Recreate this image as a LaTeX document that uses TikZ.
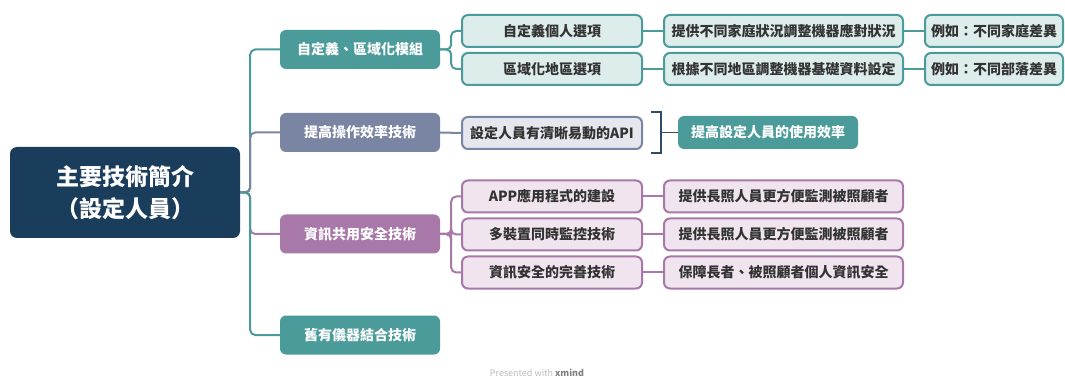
\documentclass[tikz,border=0pt]{standalone}
\usepackage{fontspec}
\setmainfont{Noto Sans CJK TC}
\usetikzlibrary{calc}
\definecolor{rootc}{HTML}{1B3D5C}
\definecolor{tealc}{HTML}{4A9B9A}
\definecolor{slatec}{HTML}{7A84A3}
\definecolor{purpc}{HTML}{A878A8}
\definecolor{tealf}{HTML}{DDEDEC}
\definecolor{slatef}{HTML}{E5E7EF}
\definecolor{purpf}{HTML}{F0E5EF}
\definecolor{brk}{HTML}{2E4B68}
\definecolor{txt}{HTML}{333333}
\definecolor{wmc}{HTML}{BBBBBB}
\tikzset{
  rootbox/.style={fill=rootc, text=white, rounded corners=7, minimum width=230, minimum height=91, align=center, inner sep=0, font=\bfseries\fontsize{23}{32}\selectfont},
  lvone/.style={rounded corners=6, minimum width=160, minimum height=39, text=white, inner sep=0, font=\bfseries\fontsize{14}{16}\selectfont},
  lvtwo/.style={rounded corners=6, line width=2, minimum height=32, text=txt, inner sep=0, font=\bfseries\fontsize{14}{16}\selectfont},
  tbox/.style={lvtwo, draw=tealc, fill=tealf},
  sbox/.style={lvtwo, draw=slatec, fill=slatef},
  pbox/.style={lvtwo, draw=purpc, fill=purpf},
  conn/.style={line width=2, rounded corners=5},
}
\begin{document}
\begin{tikzpicture}[x=1pt,y=-1pt]
\useasboundingbox (0,0) rectangle (1065,379);
\clip (0,0) rectangle (1065,379);
% root and main topics
\node[rootbox] (root) at (125,192.5) {主要技術簡介\\（設定人員）};
\node[lvone, fill=tealc] (m1) at (360,49.5) {自定義、區域化模組};
\node[lvone, fill=slatec] (m2) at (360,132.5) {提高操作效率技術};
\node[lvone, fill=purpc] (m3) at (360,234) {資訊共用安全技術};
\node[lvone, fill=tealc] (m4) at (360,335) {舊有儀器結合技術};
% teal branch
\node[tbox, minimum width=180] (a1) at (552,31) {自定義個人選項};
\node[tbox, minimum width=180] (a2) at (552,69) {區域化地區選項};
\node[tbox, minimum width=239] (b1) at (783.5,31) {提供不同家庭狀況調整機器應對狀況};
\node[tbox, minimum width=239] (b2) at (783.5,69) {根據不同地區調整機器基礎資料設定};
\node[tbox, minimum width=138] (c1) at (994,31) {例如：不同家庭差異};
\node[tbox, minimum width=138] (c2) at (994,69) {例如：不同部落差異};
% slate branch
\node[sbox, minimum width=180] (api) at (552,133) {設定人員有清晰易動的API};
\node[lvone, fill=tealc, minimum width=180, minimum height=33] (sum) at (768,132.5) {提高設定人員的使用效率};
% purple branch
\node[pbox, minimum width=180] (p1) at (552,196.5) {APP應用程式的建設};
\node[pbox, minimum width=180] (p2) at (552,234.5) {多裝置同時監控技術};
\node[pbox, minimum width=180] (p3) at (552,272.5) {資訊安全的完善技術};
\node[pbox, minimum width=239] (q1) at (783.5,196.5) {提供長照人員更方便監測被照顧者};
\node[pbox, minimum width=239] (q2) at (783.5,234.5) {提供長照人員更方便監測被照顧者};
\node[pbox, minimum width=239] (q3) at (783.5,272.5) {保障長者、被照顧者個人資訊安全};
% connectors root -> topics
\draw[conn, tealc] (root.east) -- ++(10,0) |- (m1.west);
\draw[conn, slatec] (root.east) -- ++(10,0) |- (m2.west);
\draw[conn, purpc] (root.east) -- ++(10,0) |- (m3.west);
\draw[conn, tealc] (root.east) -- ++(10,0) |- (m4.west);
% teal connectors
\draw[conn, tealc] (m1.east) -- ++(11,0) |- (a1.west);
\draw[conn, tealc] (m1.east) -- ++(11,0) |- (a2.west);
\draw[conn, tealc] (a1.east) -- (b1.west);
\draw[conn, tealc] (a2.east) -- (b2.west);
\draw[conn, tealc] (b1.east) -- (c1.west);
\draw[conn, tealc] (b2.east) -- (c2.west);
% slate connectors
\draw[conn, slatec] (m2.east) -- (api.west);
\coordinate (bt) at ($(api.north east)+(18,-4)$);
\coordinate (bb) at ($(api.south east)+(18,3)$);
\draw[brk, line width=1.5] ($(bt)+(-10,0)$) -- (bt) -- (bb) -- ++(-10,0);
\draw[brk, line width=1.5] ($(bt)!0.5!(bb)$) -- (sum.west);
% purple connectors
\draw[conn, purpc] (m3.east) -- ++(11,0) |- (p1.west);
\draw[conn, purpc] (m3.east) -- ++(11,0) |- (p2.west);
\draw[conn, purpc] (m3.east) -- ++(11,0) |- (p3.west);
\draw[conn, purpc] (p1.east) -- (q1.west);
\draw[conn, purpc] (p2.east) -- (q2.west);
\draw[conn, purpc] (p3.east) -- (q3.west);
% watermark
\node[anchor=base, text=wmc, inner sep=0, font=\fontsize{9}{11}\selectfont] (wm) at (537,376) {Presented with \textcolor{gray}{\bfseries xmind}};
\end{tikzpicture}
\end{document}
